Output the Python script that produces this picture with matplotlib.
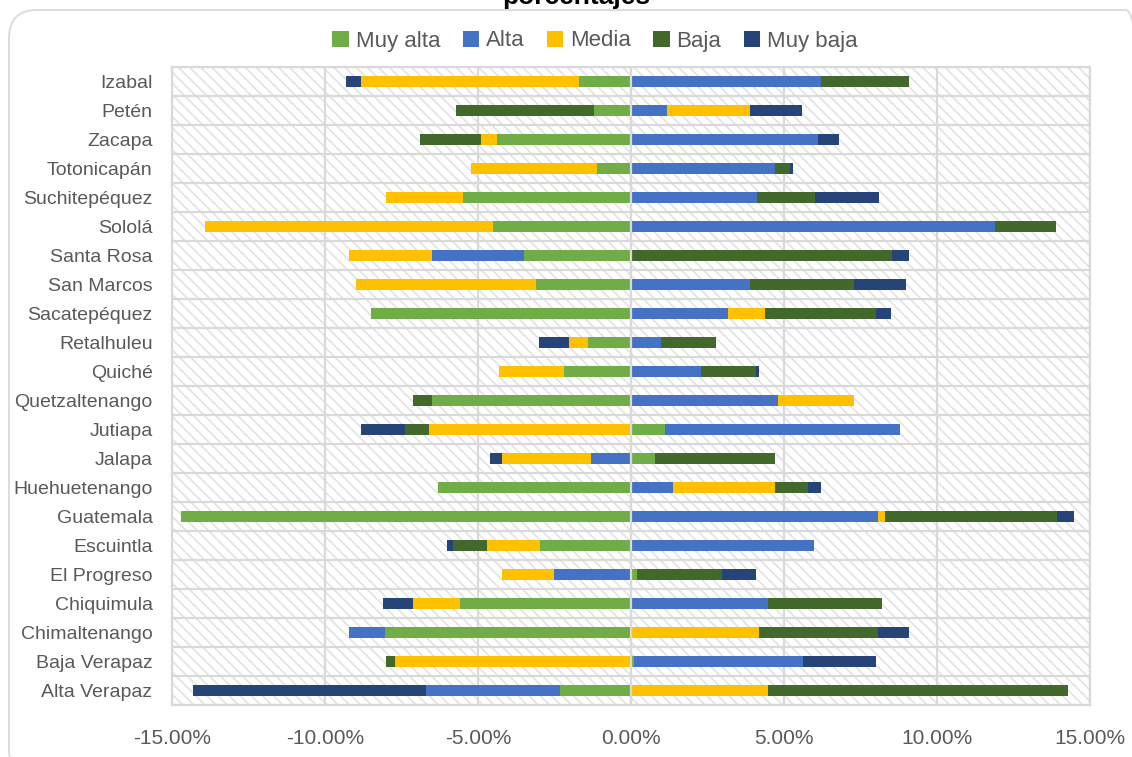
"""Diverging stacked bars by department, five levels, signed shares."""

import matplotlib

matplotlib.use("Agg")
import matplotlib.pyplot as plt
import numpy as np
from matplotlib.patches import FancyBboxPatch, Rectangle
from matplotlib.ticker import FuncFormatter, MultipleLocator

# departments, bottom to top
DEPARTMENTS = [
    "Alta Verapaz", "Baja Verapaz", "Chimaltenango", "Chiquimula", "El Progreso",
    "Escuintla", "Guatemala", "Huehuetenango", "Jalapa", "Jutiapa",
    "Quetzaltenango", "Quiché", "Retalhuleu", "Sacatepéquez", "San Marcos",
    "Santa Rosa", "Sololá", "Suchitepéquez", "Totonicapán", "Zacapa",
    "Petén", "Izabal",
]

# signed values in percent
muy_alta = [-2.31, 0.09, -8.03, -5.60, 0.21, -2.98, -14.71, -6.31, 0.78, 1.10, -6.51,
            -2.20, -1.40, -8.50, -3.10, -3.51, -4.50, -5.50, -1.11, -4.39, -1.21, -1.70]
alta = [-4.39, 5.52, -1.19, 4.49, -2.52, 5.99, 8.08, 1.38, -1.30, 7.69, 4.81,
        2.30, 0.99, 3.18, 3.89, -2.99, 11.90, 4.11, 4.70, 6.10, 1.18, 6.21]
media = [4.49, -7.70, 4.19, -1.51, -1.68, -1.73, 0.22, 3.33, -2.90, -6.61, 2.48,
         -2.11, -0.62, 1.21, -5.90, -2.72, -9.42, -2.51, -4.11, -0.51, 2.71, -7.11]
baja = [9.80, -0.32, 3.89, 3.70, 2.77, -1.10, 5.61, 1.09, 3.92, -0.79, -0.60,
        1.80, 1.80, 3.62, 3.41, 8.52, 1.99, 1.89, 0.51, -2.01, -4.51, 2.88]
muy_baja = [-7.61, 2.39, 1.00, -0.99, 1.10, -0.20, 0.58, 0.41, -0.41, -1.41, 0.0,
            0.09, -0.98, 0.49, 1.69, 0.56, 0.0, 2.09, 0.07, 0.69, 1.71, -0.50]

SERIES = [
    ("Muy alta", muy_alta, "#70AD47"),
    ("Alta", alta, "#4472C4"),
    ("Media", media, "#FFC000"),
    ("Baja", baja, "#43682B"),
    ("Muy baja", muy_baja, "#264478"),
]

GRID = "#D9D9D9"
TEXT = "#595959"
FONT = ["Liberation Sans", "DejaVu Sans"]

plt.rcParams["font.family"] = FONT
plt.rcParams["hatch.color"] = "#E2E2E2"
plt.rcParams["hatch.linewidth"] = 1.2

W, H = 1132, 757
fig = plt.figure(figsize=(W / 100, H / 100), dpi=100)
fig.patch.set_facecolor("white")

# rounded chart frame, partly outside the canvas
frame = FancyBboxPatch(
    (0.09, -0.2), 11.45, 7.57 - 0.1 + 0.2,
    boxstyle="round,pad=0,rounding_size=0.28",
    transform=fig.dpi_scale_trans, facecolor="none", edgecolor=GRID, lw=1.3,
)
fig.patches.append(frame)

fig.text(576 / W, 1 - 4 / H, "porcentajes", ha="center", va="baseline",
         fontsize=19, fontweight="bold", color="black")

ax = fig.add_axes([172 / W, 1 - 705 / H, (1090 - 172) / W, (705 - 67) / H])
ax.set_facecolor("white")
ax.add_patch(Rectangle((0, 0), 1, 1, transform=ax.transAxes, facecolor="none",
                       edgecolor="#E2E2E2", hatch="\\\\\\", lw=0, zorder=0.5))

y = np.arange(len(DEPARTMENTS))
pos = np.zeros(len(DEPARTMENTS))
neg = np.zeros(len(DEPARTMENTS))
for name, vals, color in SERIES:
    v = np.asarray(vals, dtype=float)
    left = np.where(v >= 0, pos, neg)
    ax.barh(y, v, left=left, height=0.4, color=color, label=name, zorder=2)
    pos += np.clip(v, 0, None)
    neg += np.clip(v, None, 0)

ax.set_xlim(-15, 15)
ax.set_ylim(-0.5, len(DEPARTMENTS) - 0.5)
ax.xaxis.set_major_locator(MultipleLocator(5))
ax.xaxis.set_major_formatter(FuncFormatter(lambda x, _: f"{x:.2f}%"))
ax.set_yticks(y)
ax.set_yticklabels(DEPARTMENTS)
ax.tick_params(axis="y", length=0, pad=14, labelsize=14, labelcolor=TEXT)
ax.tick_params(axis="x", length=0, pad=17, labelsize=15, labelcolor=TEXT)

# vertical gridlines at ticks, horizontal ones between categories
for xv in np.arange(-15, 16, 5):
    ax.axvline(xv, color=GRID, lw=1.6, zorder=1)
for yb in np.arange(-0.5, len(DEPARTMENTS), 1.0):
    ax.axhline(yb, color=GRID, lw=1.6, zorder=1)
ax.axvline(0, color=GRID, lw=1.6, zorder=3)
for s in ax.spines.values():
    s.set_color(GRID)
    s.set_linewidth(1.6)

fig.legend(
    loc="center", bbox_to_anchor=(595 / W, 1 - 41 / H), ncol=5, frameon=False,
    fontsize=16, labelcolor=TEXT, handlelength=0.75, handleheight=0.75,
    handletextpad=0.3, columnspacing=1.0,
)

fig.savefig("out.png", dpi=100, facecolor="white")
